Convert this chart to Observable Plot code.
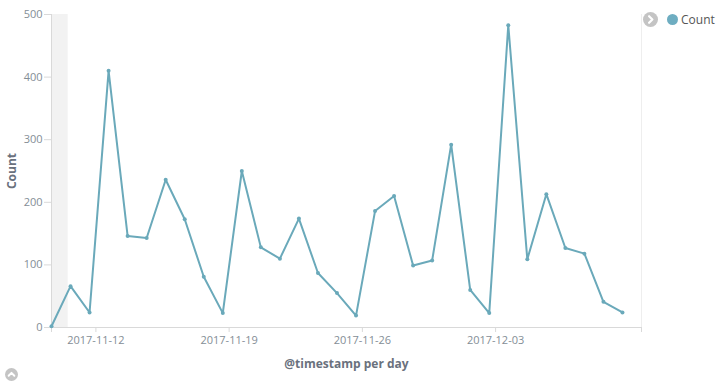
<!DOCTYPE html>
<html><head><meta charset="utf-8">
<script src="https://cdn.jsdelivr.net/npm/d3@7"></script>
<script src="https://cdn.jsdelivr.net/npm/@observablehq/plot@0.6"></script>
<style>
body{margin:0;background:#fff;font-family:"Open Sans",sans-serif;}
#wrap{position:relative;width:725px;height:386px;overflow:hidden;}
.leg{position:absolute;top:11px;left:643px;display:flex;align-items:center;font-size:12px;color:#555;}
.sw{width:11px;height:11px;border-radius:50%;background:#6eadc1;margin-left:9px;margin-right:3px;}
.up{position:absolute;left:5px;top:364px;}
</style></head><body><div id="wrap"></div>
<script>
const dates = [
  "2017-11-09T16:00Z","2017-11-10T16:00Z","2017-11-11T16:00Z","2017-11-12T16:00Z","2017-11-13T16:00Z",
  "2017-11-14T16:00Z","2017-11-15T16:00Z","2017-11-16T16:00Z","2017-11-17T16:00Z","2017-11-18T16:00Z",
  "2017-11-19T16:00Z","2017-11-20T16:00Z","2017-11-21T16:00Z","2017-11-22T16:00Z","2017-11-23T16:00Z",
  "2017-11-24T16:00Z","2017-11-25T16:00Z","2017-11-26T16:00Z","2017-11-27T16:00Z","2017-11-28T16:00Z",
  "2017-11-29T16:00Z","2017-11-30T16:00Z","2017-12-01T16:00Z","2017-12-02T16:00Z","2017-12-03T16:00Z",
  "2017-12-04T16:00Z","2017-12-05T16:00Z","2017-12-06T16:00Z","2017-12-07T16:00Z","2017-12-08T16:00Z",
  "2017-12-09T16:00Z"
];
const counts = [2,66,24,410,146,143,236,173,81,23,250,128,110,174,87,55,19,186,210,99,107,292,60,23,483,109,213,127,118,41,24];
const xTickLabels = ["2017-11-12","2017-11-19","2017-11-26","2017-12-03"];
const yTicks = [0,100,200,300,400,500];
const domainStart = "2017-11-09T16:00Z";
const domainEnd = "2017-12-10T16:00Z";
const bandStart = "2017-11-09T16:00Z";
const bandEnd = "2017-11-10T13:00Z";

const data = dates.map((d,i)=>({date:new Date(d), count:counts[i]}));
const x0 = new Date(domainStart), x1 = new Date(domainEnd);
const xTicks = [x0, ...xTickLabels.map(s=>new Date(s+"T00:00Z")), x1];
const fmt = d3.utcFormat("%Y-%m-%d");
const color = "#6aa9ba";

const chart = Plot.plot({
  width: 725, height: 386,
  marginLeft: 51, marginRight: 84, marginTop: 14, marginBottom: 59,
  style: {fontFamily: '"Open Sans", sans-serif', fontSize: "11px", color: "#848e96", background: "#fff"},
  x: {type: "utc", domain: [x0, x1]},
  y: {domain: [0, 500]},
  marks: [
    Plot.rectX([{a:new Date(bandStart), b:new Date(bandEnd)}], {x1:"a", x2:"b", y1:0, y2:500, fill:"#f2f2f2"}),
    Plot.ruleX([x1], {y1:0, y2:500, stroke:"#eeeeee"}),
    Plot.ruleY([0], {stroke:"#d9d9d9"}),
    Plot.ruleX([x0], {y1:0, y2:500, stroke:"#d9d9d9"}),
    Plot.axisX({ticks: xTicks, tickSize: 5, tickPadding: 4, stroke: "#d9d9d9", fill: "#848e96",
      tickFormat: d => (+d === +x0 || +d === +x1) ? "" : fmt(d),
      label: "@timestamp per day", labelAnchor: "center", labelArrow: "none", labelOffset: 40}),
    Plot.axisY({ticks: yTicks, tickSize: 7, tickPadding: 2, stroke: "#d9d9d9", fill: "#848e96",
      label: "Count", labelAnchor: "center", labelArrow: "none", labelOffset: 44}),
    Plot.line(data, {x:"date", y:"count", stroke: color, strokeWidth: 2}),
    Plot.dot(data, {x:"date", y:"count", r: 2, fill: color})
  ]
});
d3.select(chart).selectAll("[aria-label='x-axis label'] text, [aria-label='y-axis label'] text")
  .attr("font-weight","bold").attr("font-size","12px").attr("fill","#6a717d");
const wrap = document.getElementById("wrap");
wrap.appendChild(chart);
const btn = rot => `<svg width="15" height="15" viewBox="0 0 16 16"><circle cx="8" cy="8" r="8" fill="#c4c4c4"/><path d="M6.5 4.5 L10 8 L6.5 11.5" fill="none" stroke="#fff" stroke-width="2.4" stroke-linecap="round" stroke-linejoin="round" transform="rotate(${rot} 8 8)"/></svg>`;
const leg = document.createElement("div");
leg.className = "leg";
leg.innerHTML = btn(0) + '<div class="sw"></div><span>Count</span>';
wrap.appendChild(leg);
const up = document.createElement("div");
up.className = "up";
up.innerHTML = btn(-90).replace('width="15" height="15"','width="13" height="13"');
wrap.appendChild(up);
</script></body></html>
